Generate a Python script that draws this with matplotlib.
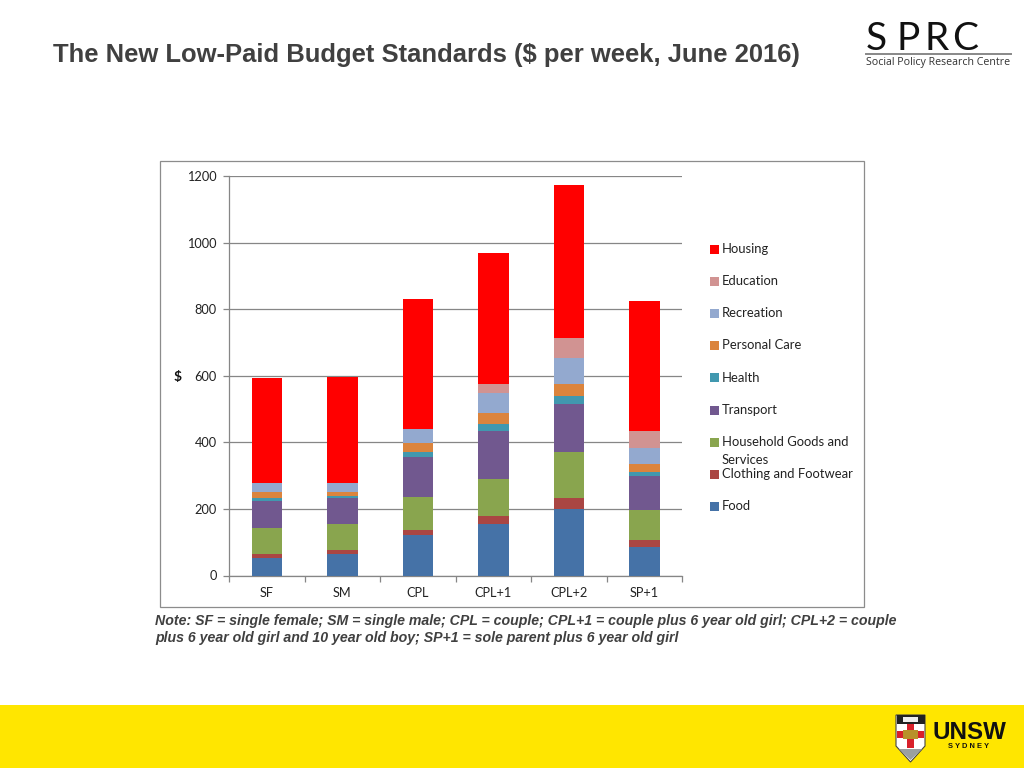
import matplotlib
matplotlib.use("Agg")
import matplotlib.pyplot as plt
from matplotlib.patches import Rectangle, Polygon

categories = ["SF", "SM", "CPL", "CPL+1", "CPL+2", "SP+1"]
food = [53, 64, 121, 156, 200, 87]
clothing = [13, 12, 17, 22, 33, 21]
household = [78, 78, 98, 112, 139, 90]
transport = [80, 78, 121, 145, 144, 101]
health = [8, 6, 14, 19, 23, 12]
personal = [18, 13, 27, 33, 36, 23]
recreation = [28, 28, 41, 61, 78, 49]
education = [0, 0, 0, 27, 61, 51]
housing = [315, 317, 393, 393, 460, 392]
yticks = [0, 200, 400, 600, 800, 1000, 1200]

series = [
    ("Food", food, "#4572A7"),
    ("Clothing and Footwear", clothing, "#AA4643"),
    ("Household Goods and\nServices", household, "#89A54E"),
    ("Transport", transport, "#71588F"),
    ("Health", health, "#4198AF"),
    ("Personal Care", personal, "#DB843D"),
    ("Recreation", recreation, "#93A9CF"),
    ("Education", education, "#D19392"),
    ("Housing", housing, "#FF0000"),
]
title = "The New Low-Paid Budget Standards ($ per week, June 2016)"
note = ["Note: SF = single female; SM = single male; CPL = couple; CPL+1 = couple plus 6 year old girl; CPL+2 = couple",
        "plus 6 year old girl and 10 year old boy; SP+1 = sole parent plus 6 year old girl"]

W, H = 1024, 768
fig = plt.figure(figsize=(W / 100, H / 100), dpi=100, facecolor="white")
bg = fig.add_axes([0, 0, 1, 1], zorder=0)
bg.set_xlim(0, W); bg.set_ylim(H, 0); bg.axis("off")

# page furniture
bg.add_patch(Rectangle((0, 705), W, 63, fc="#FFE600", ec="none"))
bg.add_patch(Rectangle((159.5, 160.5), 704.5, 446.5, fc="white", ec="#8C8C8C", lw=0.9))
bg.text(53, 55, title, fontsize=18.44, fontweight="bold", family="Liberation Sans",
        color="#404040", va="center", ha="left")
for i, line in enumerate(note):
    bg.text(155, 620.5 + 17.5 * i, line, fontsize=10.2, fontweight="bold", style="italic",
            family="Liberation Sans", color="#404040", va="center", ha="left")

# SPRC logo
for ch, x in zip("SPRC", [876, 908, 937, 965]):
    bg.text(x, 39, ch, fontsize=28, family="Lato", color="#111111", va="center", ha="center")
bg.plot([866, 1011], [53.5, 53.5], color="#888888", lw=1.4)
bg.text(866, 62, "Social Policy Research Centre", fontsize=7.65, family="Open Sans",
        color="#333333", va="center", ha="left")

# UNSW logo
bg.add_patch(Polygon([(896, 715), (925, 715), (925, 746), (910.5, 762), (896, 746)],
                     fc="white", ec="#444444", lw=0.8))
bg.add_patch(Rectangle((896.5, 715), 28, 9, fc="#222222", ec="none"))
bg.add_patch(Rectangle((903, 717), 15, 5, fc="#EEEEEE", ec="none"))
bg.add_patch(Rectangle((907, 724), 7, 24, fc="#D8202A", ec="none"))
bg.add_patch(Rectangle((897, 731), 27, 7, fc="#D8202A", ec="none"))
bg.add_patch(Rectangle((903, 730), 15, 9, fc="#B8912A", ec="none"))
bg.add_patch(Polygon([(899, 749), (922, 749), (910.5, 760)], fc="#9AA0A0", ec="none"))
bg.text(933, 732.5, "UNSW", fontsize=17.4, fontweight="bold", family="Liberation Sans",
        color="#111111", va="center", ha="left")
bg.text(969, 747, "S Y D N E Y", fontsize=5.4, fontweight="bold", family="Liberation Sans",
        color="#111111", va="center", ha="center")

# chart
left, right, top, bottom = 229.2, 682.2, 176, 575.5
ax = fig.add_axes([left / W, 1 - bottom / H, (right - left) / W, (bottom - top) / H], zorder=1)
ax.patch.set_alpha(0)
xs = list(range(len(categories)))
base = [0] * len(categories)
for name, vals, col in series:
    ax.bar(xs, vals, width=0.4, bottom=base, color=col, linewidth=0, zorder=3, label=name)
    base = [b + v for b, v in zip(base, vals)]
ax.set_xlim(-0.5, 5.5)
ax.set_ylim(0, 1200)
ax.set_yticks(yticks)
ax.set_xticks(xs, categories)
ax.set_xticks([i - 0.5 for i in range(7)], minor=True)
ax.grid(axis="y", color="#868686", lw=0.9, zorder=1)
ax.set_axisbelow(True)
for s in ("top", "right"):
    ax.spines[s].set_visible(False)
for s in ("left", "bottom"):
    ax.spines[s].set_color("#868686")
    ax.spines[s].set_linewidth(0.9)
ax.tick_params(axis="y", length=4, width=0.9, color="#868686", labelsize=9.2, labelcolor="#222222", pad=5)
ax.tick_params(axis="x", which="major", length=0, labelsize=9.2, labelcolor="#222222", pad=8)
ax.tick_params(axis="x", which="minor", length=4, width=0.9, color="#868686")
for lab in ax.get_xticklabels() + ax.get_yticklabels():
    lab.set_family("Lato")
bg.text(177.5, 376.5, "$", fontsize=10, fontweight="bold", family="Lato",
        color="#111111", va="center", ha="center")

# legend, top to bottom
y0, step = 249, 32.2
for i, (name, vals, col) in enumerate(reversed(series)):
    y = y0 + step * i
    bg.add_patch(Rectangle((710, y - 4.5), 9, 9, fc=col, ec="none"))
    bg.text(721.5, y - 0.3, name.split("\n")[0], fontsize=9.4, family="Lato", color="#222222", va="center", ha="left")
    if "\n" in name:
        bg.text(721.5, y + 18, name.split("\n")[1], fontsize=9.4, family="Lato", color="#222222", va="center", ha="left")

fig.savefig("out.png", dpi=100, facecolor="white")
